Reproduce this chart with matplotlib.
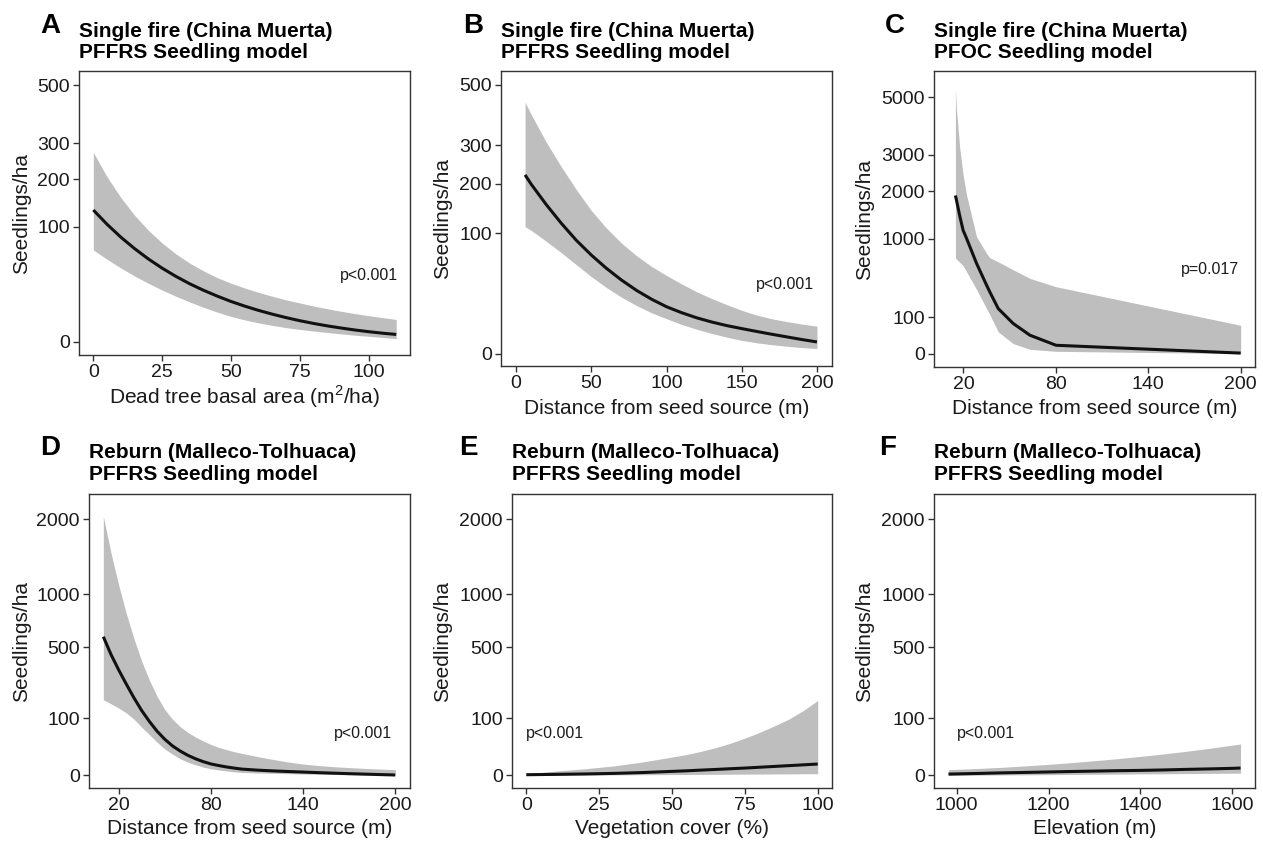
import numpy as np
import matplotlib
matplotlib.use("Agg")
import matplotlib.pyplot as plt

plt.rcParams['font.family'] = ['Liberation Sans', 'DejaVu Sans']
plt.rcParams['mathtext.fontset'] = 'custom'
plt.rcParams['mathtext.rm'] = 'Liberation Sans'

# ---------------- data ----------------
# A: dead tree basal area (m2/ha)
a_x = [0, 5, 10, 15, 20, 25, 30, 35, 40, 45, 50, 55, 60, 65, 70, 75, 80, 85, 90, 95, 100, 105, 110]
a_fit = [131.8, 104.7, 83.0, 65.8, 52.0, 41.1, 32.4, 25.5, 20.1, 15.8, 12.3, 9.61, 7.45,
         5.76, 4.41, 3.35, 2.53, 1.90, 1.42, 1.04, 0.76, 0.55, 0.40]
a_hi = [272.3, 206.5, 157.8, 121.4, 94.3, 74.0, 58.5, 46.9, 38.1, 31.2, 26.0, 21.9, 18.5,
        15.7, 13.3, 11.4, 9.67, 8.24, 7.02, 6.0, 5.15, 4.41, 3.76]
a_lo = [64, 51.6, 41.3, 32.8, 25.9, 20.25, 15.7, 12.0, 9.0, 6.66, 4.84, 3.61, 2.69, 2.02,
        1.51, 1.14, 0.86, 0.64, 0.46, 0.32, 0.22, 0.14, 0.07]

# B: distance from seed source (m)
b_x = [6, 10, 20, 30, 40, 50, 60, 70, 80, 90, 100, 110, 120, 130, 140, 150, 160, 170, 180, 190, 200]
b_fit = [220.8, 198.8, 153.8, 117.7, 88.9, 67.2, 50.4, 37.5, 27.7, 20.5, 15.2, 11.6, 8.88,
         6.92, 5.43, 4.33, 3.39, 2.59, 1.93, 1.37, 0.94]
b_hi = [436.8, 396, 309.8, 241.8, 186.3, 141.6, 109.2, 84.6, 66.4, 52.6, 42.25, 33.6, 26.5,
        21.0, 16.6, 12.96, 10.24, 8.41, 7.08, 6.05, 5.2]
b_lo = [111.5, 105.1, 87.4, 70.6, 54.8, 41.0, 30.25, 22.1, 16.0, 11.56, 8.41, 5.9, 4.12,
        2.82, 1.88, 1.21, 0.81, 0.55, 0.37, 0.25, 0.18]

# C: PFOC, distance from seed source (m)
c_x = [14.8, 15.4, 17.6, 19.8, 22, 28.5, 35, 37.1, 42.6, 52.3, 63.2, 80.1, 200]
c_fit = [1900, 1806, 1444, 1156, 1011, 620, 357, 290, 154, 69, 25.7, 5.3, 0.02]
c_hi = [5340, 4590, 3210, 2430, 1917, 1040, 764, 700, 640, 534, 430, 340, 61]
c_lo = [700, 680, 633, 588, 510, 313, 155, 116, 36, 7.6, 1.4, 0.4, 0.0]

# D: reburn, distance from seed source (m)
d_x = [10, 15, 20, 25, 30, 35, 40, 45, 50, 55, 60, 65, 70, 75, 80, 85, 90, 95, 100,
       110, 120, 130, 140, 150, 160, 170, 180, 190, 200]
d_fit = [585.6, 445, 338.6, 252.8, 182.3, 127.7, 88.4, 59.3, 39.7, 26.5, 18.1, 12.25, 8.41,
         5.76, 4.0, 2.96, 2.19, 1.64, 1.21, 0.85, 0.62, 0.46, 0.34, 0.23, 0.15, 0.09, 0.05,
         0.02, 0.005]
d_hi = [2043, 1505, 1102, 795, 566, 396, 276, 190, 132, 96, 72.3, 56.3, 44.9, 36, 29.2,
        24, 20.3, 17.2, 14.8, 10.9, 7.84, 5.52, 3.92, 2.96, 2.31, 1.85, 1.49, 1.21, 1.0]
d_lo = [174.2, 156.3, 138.1, 118.8, 96, 70.6, 50.4, 33.6, 21.2, 13.7, 8.41, 5.29, 3.42,
        2.1, 1.32, 0.9, 0.61, 0.4, 0.27, 0.18, 0.14, 0.09, 0.058, 0.04, 0.026, 0.014,
        0.006, 0.002, 0.0]

# E: vegetation cover (%)
e_x = [0, 10, 20, 30, 40, 50, 55, 60, 65, 70, 75, 80, 85, 90, 95, 100]
e_fit = [0.014, 0.032, 0.063, 0.12, 0.25, 0.49, 0.64, 0.85, 1.08, 1.35, 1.64, 2.02, 2.43,
         2.89, 3.39, 3.92]
e_hi = [0.06, 0.56, 1.32, 2.72, 5.52, 10.24, 13.3, 17.6, 23.5, 31.4, 42.25, 56.25, 74, 96,
        127.7, 171]
e_lo = [0.0, 0.001, 0.004, 0.008, 0.014, 0.022, 0.026, 0.029, 0.036, 0.04, 0.048, 0.053,
        0.0625, 0.068, 0.078, 0.084]

# F: elevation (m)
f_x = [982, 1050, 1100, 1150, 1200, 1250, 1300, 1350, 1400, 1450, 1500, 1550, 1600, 1618]
f_fit = [0.053, 0.12, 0.2, 0.27, 0.36, 0.46, 0.56, 0.67, 0.76, 0.9, 1.1, 1.28, 1.51, 1.64]
f_hi = [0.98, 1.49, 2.02, 2.76, 3.72, 4.97, 6.55, 8.53, 10.96, 13.99, 17.72, 22.28, 27.88, 30.0]
f_lo = [0.0, 0.0025, 0.0064, 0.01, 0.017, 0.026, 0.036, 0.048, 0.068, 0.084, 0.1, 0.12,
        0.144, 0.16]

letters = ['A', 'B', 'C', 'D', 'E', 'F']
titles1 = ['Single fire (China Muerta)'] * 3 + ['Reburn (Malleco-Tolhuaca)'] * 3
titles2 = ['PFFRS Seedling model', 'PFFRS Seedling model', 'PFOC Seedling model',
           'PFFRS Seedling model', 'PFFRS Seedling model', 'PFFRS Seedling model']
xlabels = [r'Dead tree basal area $(\mathrm{m}^2/\mathrm{ha})$',
           'Distance from seed source (m)', 'Distance from seed source (m)',
           'Distance from seed source (m)', 'Vegetation cover (%)', 'Elevation (m)']
ylabel = 'Seedlings/ha'
pvals = ['p<0.001', 'p<0.001', 'p=0.017', 'p<0.001', 'p<0.001', 'p<0.001']
xticks = [[0, 25, 50, 75, 100], [0, 50, 100, 150, 200], [20, 80, 140, 200],
          [20, 80, 140, 200], [0, 25, 50, 75, 100], [1000, 1200, 1400, 1600]]
yticks = [[0, 100, 200, 300, 500], [0, 100, 200, 300, 500],
          [0, 100, 1000, 2000, 3000, 5000], [0, 100, 500, 1000, 2000],
          [0, 100, 500, 1000, 2000], [0, 100, 500, 1000, 2000]]

series = [(a_x, a_fit, a_lo, a_hi), (b_x, b_fit, b_lo, b_hi), (c_x, c_fit, c_lo, c_hi),
          (d_x, d_fit, d_lo, d_hi), (e_x, e_fit, e_lo, e_hi), (f_x, f_fit, f_lo, f_hi)]

# ---------------- layout ----------------
W, H = 1263, 841
# axes boxes in pixels: left, top, right, bottom
boxes = [(79, 71, 410, 355), (501, 71, 832, 366), (934, 71, 1255, 367),
         (89, 494, 410, 788), (512, 494, 832, 788), (934, 494, 1255, 788)]
xlims = [(-5.2, 115), (-10, 210), (0.9, 209.3), (0.67, 209.6), (-4.9, 104.9), (950.5, 1649.5)]
ylims_sqrt = [(-1.16, 23.6), (-1.03, 23.5), (-3.69, 77.9), (-2.2, 49.1), (-2.2, 49.1), (-2.2, 49.1)]
ppos = [(100, 33), (179, 33), (180, 540), (179, 53), (10, 53), (1063, 53)]
letter_x = [40, 463, 885, 40, 459, 879]
ylabel_x = [22, 443, 865, 22, 443, 865]
xlabel_y = [397, 408, 408, 829, 829, 829]


def fwd(v):
    v = np.asarray(v, dtype=float)
    return np.sign(v) * np.sqrt(np.abs(v))


def inv(v):
    v = np.asarray(v, dtype=float)
    return np.sign(v) * v ** 2


fig = plt.figure(figsize=(W / 100, H / 100), dpi=100)
frame_col = '#333333'
band_col = '#bebebe'
text_col = '#1a1a1a'

for i in range(6):
    l, t, r, b = boxes[i]
    ax = fig.add_axes([l / W, 1 - b / H, (r - l) / W, (b - t) / H])
    ax.set_yscale('function', functions=(fwd, inv))
    x, fit, lo, hi = series[i]
    ax.fill_between(x, lo, hi, color=band_col, lw=0)
    ax.plot(x, fit, color='#111111', lw=2.2, solid_capstyle='butt', solid_joinstyle='round')
    ax.set_xlim(*xlims[i])
    y0, y1 = ylims_sqrt[i]
    ax.set_ylim(-(y0 ** 2) if y0 < 0 else y0 ** 2, y1 ** 2)
    ax.set_xticks(xticks[i])
    ax.set_xticklabels([str(v) for v in xticks[i]])
    ax.set_yticks(yticks[i])
    ax.set_yticklabels([str(v) for v in yticks[i]])
    ax.minorticks_off()
    ax.tick_params(axis='both', length=4, width=1, color=frame_col,
                   labelsize=14, labelcolor=text_col, pad=2.5)
    for s in ax.spines.values():
        s.set_color(frame_col)
        s.set_linewidth(1.0)
    ax.set_xlabel(xlabels[i], fontsize=15, color=text_col)
    ax.xaxis.set_label_coords(0.5, -(xlabel_y[i] - b) / (b - t))
    ax.xaxis.label.set_verticalalignment('center')
    ax.set_ylabel(ylabel, fontsize=15, color=text_col)
    ax.yaxis.set_label_coords((ylabel_x[i] - l) / (r - l), 0.5)
    ax.yaxis.label.set_verticalalignment('center')
    ax.text(ppos[i][0], ppos[i][1], pvals[i], fontsize=11.5, ha='center', va='center',
            color=text_col)

    row_base = 0 if i < 3 else 421.5
    fig.text(letter_x[i] / W, 1 - (row_base + 33.3) / H, letters[i], fontsize=20,
             fontweight='bold', ha='left', va='baseline')
    fig.text(l / W, 1 - (row_base + 37) / H, titles1[i], fontsize=15,
             fontweight='bold', ha='left', va='baseline')
    fig.text(l / W, 1 - (row_base + 58.5) / H, titles2[i], fontsize=15,
             fontweight='bold', ha='left', va='baseline')

fig.savefig('out.png', dpi=100, facecolor='white')
